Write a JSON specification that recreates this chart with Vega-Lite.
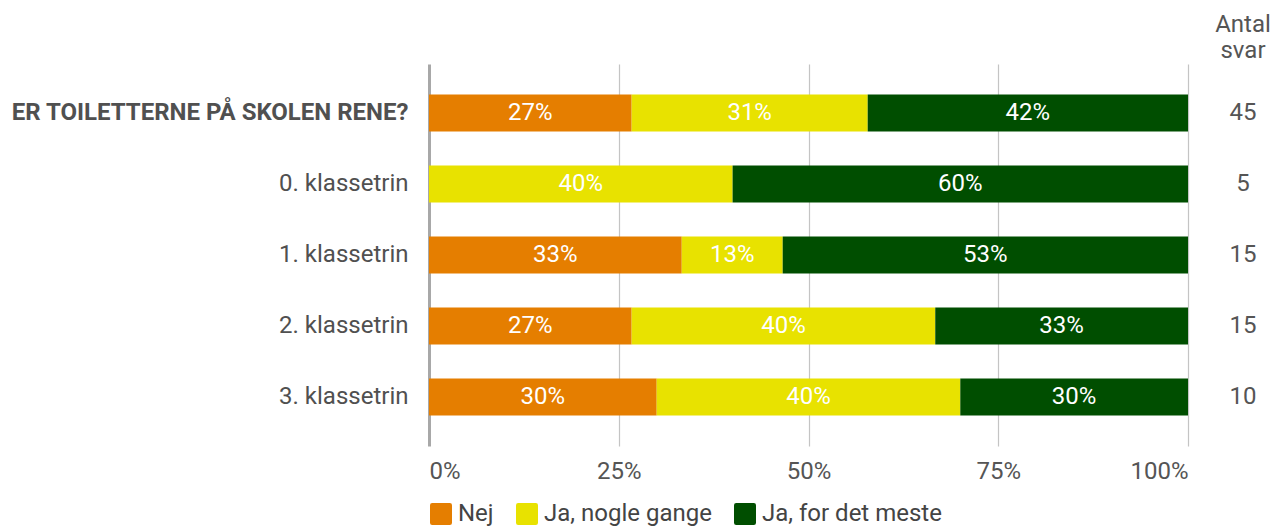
{
  "$schema": "https://vega.github.io/schema/vega-lite/v6.json",
  "padding": {"left": 10, "top": 13, "right": 0, "bottom": 5},
  "background": "white",
  "config": {
    "font": "Roboto",
    "view": {"stroke": null},
    "axis": {"labelFont": "Roboto", "titleFont": "Roboto"},
    "legend": {"labelFont": "Roboto"}
  },
  "datasets": {
    "answers": [
      {"row": "ER TOILETTERNE PÅ SKOLEN RENE?", "answer": "Nej", "k": 1, "value": 0.267},
      {"row": "ER TOILETTERNE PÅ SKOLEN RENE?", "answer": "Ja, nogle gange", "k": 2, "value": 0.311},
      {"row": "ER TOILETTERNE PÅ SKOLEN RENE?", "answer": "Ja, for det meste", "k": 3, "value": 0.422},
      {"row": "0. klassetrin", "answer": "Nej", "k": 1, "value": 0},
      {"row": "0. klassetrin", "answer": "Ja, nogle gange", "k": 2, "value": 0.4},
      {"row": "0. klassetrin", "answer": "Ja, for det meste", "k": 3, "value": 0.6},
      {"row": "1. klassetrin", "answer": "Nej", "k": 1, "value": 0.333},
      {"row": "1. klassetrin", "answer": "Ja, nogle gange", "k": 2, "value": 0.133},
      {"row": "1. klassetrin", "answer": "Ja, for det meste", "k": 3, "value": 0.534},
      {"row": "2. klassetrin", "answer": "Nej", "k": 1, "value": 0.267},
      {"row": "2. klassetrin", "answer": "Ja, nogle gange", "k": 2, "value": 0.4},
      {"row": "2. klassetrin", "answer": "Ja, for det meste", "k": 3, "value": 0.333},
      {"row": "3. klassetrin", "answer": "Nej", "k": 1, "value": 0.3},
      {"row": "3. klassetrin", "answer": "Ja, nogle gange", "k": 2, "value": 0.4},
      {"row": "3. klassetrin", "answer": "Ja, for det meste", "k": 3, "value": 0.3}
    ],
    "counts": [
      {"row": "ER TOILETTERNE PÅ SKOLEN RENE?", "n": 45},
      {"row": "0. klassetrin", "n": 5},
      {"row": "1. klassetrin", "n": 15},
      {"row": "2. klassetrin", "n": 15},
      {"row": "3. klassetrin", "n": 10}
    ]
  },
  "bounds": "flush",
  "spacing": 25,
  "hconcat": [
    {
      "width": 759,
      "height": 382,
      "data": {"name": "answers"},
      "transform": [
        {"stack": "value", "groupby": ["row"], "sort": [{"field": "k"}], "as": ["v0", "v1"]},
        {"calculate": "(datum.v0 + datum.v1) / 2", "as": "mid"},
        {"filter": "datum.value > 0"}
      ],
      "encoding": {
        "y": {
          "field": "row", "type": "nominal",
          "sort": ["ER TOILETTERNE PÅ SKOLEN RENE?", "0. klassetrin", "1. klassetrin", "2. klassetrin", "3. klassetrin"],
          "scale": {"paddingInner": 0.48, "paddingOuter": 0.43},
          "axis": {
            "title": null, "ticks": false, "domain": false, "labelPadding": 21,
            "labelFontSize": 24, "labelColor": "#505050", "labelLimit": 600,
            "labelFontWeight": {"condition": {"test": "datum.value === 'ER TOILETTERNE PÅ SKOLEN RENE?'", "value": "bold"}, "value": "normal"}
          }
        }
      },
      "layer": [
        {
          "mark": {"type": "bar"},
          "encoding": {
            "x": {
              "field": "v0", "type": "quantitative",
              "scale": {"domain": [0, 1], "nice": false},
              "axis": {
                "title": null, "values": [0, 0.25, 0.5, 0.75, 1], "format": ".0%",
                "domain": false, "ticks": false, "labelPadding": 13,
                "labelFontSize": 24, "labelColor": "#555555",
                "gridColor": {"condition": {"test": "datum.value === 0", "value": "#a8a8a8"}, "value": "#c4c4c4"},
                "gridWidth": {"condition": {"test": "datum.value === 0", "value": 3}, "value": 1.2}
              }
            },
            "x2": {"field": "v1"},
            "color": {
              "field": "answer", "type": "nominal",
              "scale": {"domain": ["Nej", "Ja, nogle gange", "Ja, for det meste"], "range": ["#e57e00", "#e8e200", "#004e00"]},
              "legend": {
                "title": null, "orient": "bottom", "direction": "horizontal",
                "symbolType": "M -0.8 -1 L 0.8 -1 Q 1 -1 1 -0.8 L 1 0.8 Q 1 1 0.8 1 L -0.8 1 Q -1 1 -1 0.8 L -1 -0.8 Q -1 -1 -0.8 -1 Z",
                "symbolSize": 484, "symbolStrokeWidth": 0,
                "labelFontSize": 24, "labelColor": "#444444", "labelLimit": 400,
                "columnPadding": 21, "labelOffset": 5, "offset": 19
              }
            }
          }
        },
        {
          "mark": {"type": "text", "color": "white", "fontSize": 24, "align": "center", "baseline": "middle"},
          "encoding": {
            "x": {"field": "mid", "type": "quantitative"},
            "text": {"field": "value", "type": "quantitative", "format": ".0%"}
          }
        }
      ]
    },
    {
      "width": 60,
      "height": 382,
      "data": {"name": "counts"},
      "title": {"text": ["Antal", "svar"], "fontSize": 24, "fontWeight": "normal", "color": "#555555", "anchor": "middle", "lineHeight": 26, "offset": 1},
      "mark": {"type": "text", "fontSize": 24, "color": "#555555", "align": "center", "baseline": "middle"},
      "encoding": {
        "y": {
          "field": "row", "type": "nominal",
          "sort": ["ER TOILETTERNE PÅ SKOLEN RENE?", "0. klassetrin", "1. klassetrin", "2. klassetrin", "3. klassetrin"],
          "scale": {"type": "point", "padding": 0.69},
          "axis": null
        },
        "text": {"field": "n", "type": "quantitative"}
      }
    }
  ]
}
